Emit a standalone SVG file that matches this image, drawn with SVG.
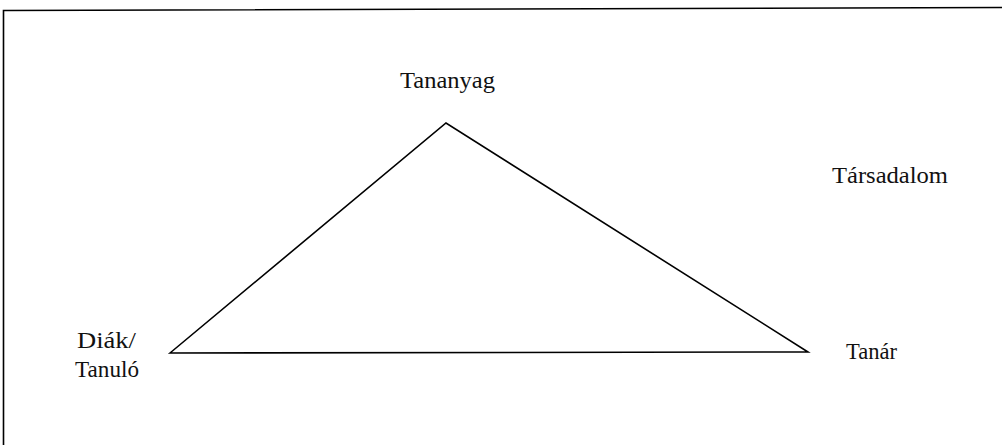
<svg xmlns="http://www.w3.org/2000/svg" width="1002" height="445" viewBox="0 0 1002 445">
<style>
text{font-family:"Liberation Serif","Times New Roman",serif;font-size:23px;fill:#111}
.ln{stroke:#000;stroke-width:1.6;fill:none}
</style>
<rect width="1002" height="445" fill="#fff"/>
<g id="frame">
<path class="ln" d="M3.5 445 V10.5 L1002 7.5" stroke-width="2"/>
</g>
<g id="connectors">
<path class="ln" d="M170 353 L446 123 L808 352 Z" stroke-linejoin="miter"/>
</g>
<g id="node-tananyag"><text x="400" y="88" textLength="95" lengthAdjust="spacingAndGlyphs">Tananyag</text></g>
<g id="node-tarsadalom"><text x="832" y="183" textLength="116" lengthAdjust="spacingAndGlyphs">Társadalom</text></g>
<g id="node-tanar"><text x="846" y="359" textLength="51" lengthAdjust="spacingAndGlyphs">Tanár</text></g>
<g id="node-diak">
<text x="77" y="348" textLength="59" lengthAdjust="spacingAndGlyphs">Diák/</text>
<text x="75" y="377" textLength="64" lengthAdjust="spacingAndGlyphs">Tanuló</text>
</g>
</svg>
